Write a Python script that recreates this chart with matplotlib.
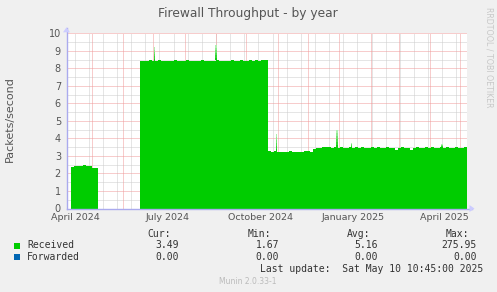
import numpy as np
import matplotlib
matplotlib.use('Agg')
import matplotlib.pyplot as plt
import matplotlib.dates as mdates
from matplotlib.patches import Polygon

# ---------------- data ----------------
title = "Firewall Throughput - by year"
ylabel = "Packets/second"
x_start = '2024-04-06'
x_end = '2025-05-07'
step_days = 3

seg_starts = ['2024-04-10', '2024-06-18', '2024-10-22', '2024-12-06']
seg1 = [2.38, 2.42, 2.40, 2.45, 2.46, 2.44, 2.41, 2.33, 2.32]
seg2 = [8.40, 8.44, 8.41, 8.45, 8.43, 8.40, 8.46, 8.42, 8.44, 8.41, 8.43, 8.45,
        8.42, 8.40, 8.44, 8.47, 8.43, 8.41, 8.44, 8.42, 8.45, 8.43, 8.40, 8.44,
        8.42, 8.46, 8.43, 8.41, 8.44, 8.42, 8.45, 8.41, 8.43, 8.46, 8.44, 8.42,
        8.45, 8.43, 8.47, 8.44, 8.46, 8.45]
seg3 = [3.27, 3.24, 3.26, 3.23, 3.25, 3.22, 3.24, 3.26, 3.23, 3.25, 3.24, 3.21,
        3.26, 3.30, 3.25]
seg4 = [3.42, 3.46, 3.48, 3.50, 3.49, 3.51, 3.48, 3.50, 3.47, 3.49, 3.46, 3.48,
        3.50, 3.47, 3.49, 3.48, 3.50, 3.46, 3.48, 3.49, 3.47, 3.50, 3.48, 3.46,
        3.49, 3.47, 3.48, 3.32, 3.47, 3.49, 3.48, 3.46, 3.36, 3.47, 3.50, 3.48,
        3.46, 3.49, 3.47, 3.50, 3.48, 3.45, 3.49, 3.47, 3.50, 3.48, 3.46, 3.49,
        3.44, 3.47, 3.49]
segments = [seg1, seg2, seg3, seg4]

spike_dates = ['2024-07-02', '2024-09-01', '2024-10-31', '2024-12-30', '2025-01-13', '2025-04-13']
spike_values = [9.20, 9.33, 4.28, 4.47, 3.73, 3.67]

label_texts = ['April 2024', 'July 2024', 'October 2024', 'January 2025', 'April 2025']
label_dates = ['2024-04-15', '2024-07-15', '2024-10-15', '2025-01-15', '2025-04-15']
major_month_dates = ['2024-05-01', '2024-06-01', '2024-07-01', '2024-08-01', '2024-09-01',
                     '2024-10-01', '2024-11-01', '2024-12-01', '2025-01-01', '2025-02-01',
                     '2025-03-01', '2025-04-01', '2025-05-01']
minor_first = '2024-04-14'
minor_step = 14
y_ticks = [0, 1, 2, 3, 4, 5, 6, 7, 8, 9, 10]
y_minor = [0.5, 1.5, 2.5, 3.5, 4.5, 5.5, 6.5, 7.5, 8.5, 9.5]

legend_names = ['Received', 'Forwarded']
legend_colors = ['#00cc00', '#0066b3']
col_headers = ['Cur:', 'Min:', 'Avg:', 'Max:']
cur_vals = ['3.49', '0.00']
min_vals = ['1.67', '0.00']
avg_vals = ['5.16', '0.00']
max_vals = ['275.95', '0.00']
last_update = "Last update:  Sat May 10 10:45:00 2025"
version = "Munin 2.0.33-1"
watermark = "RRDTOOL / TOBI OETIKER"

# ---------------- figure ----------------
W, H = 497, 292
fig = plt.figure(figsize=(W / 100, H / 100), dpi=100, facecolor='#f0f0f0')
px_l, px_r, px_t, px_b = 66.5, 466.5, 33.3, 208.5
ax = fig.add_axes([px_l / W, (H - px_b) / H, (px_r - px_l) / W, (px_b - px_t) / H])
ax.set_facecolor('white')

d2n = lambda s: mdates.date2num(np.datetime64(s))
x0, x1 = d2n(x_start), d2n(x_end)
ax.set_xlim(x0, x1)
ax.set_ylim(0, 10)

green = legend_colors[0]
all_edges, all_vals = [], []
for s, vals in zip(seg_starts, segments):
    edges = d2n(s) + np.arange(len(vals) + 1) * step_days
    ax.stairs(vals, edges, fill=True, color=green, baseline=0, lw=0, zorder=2)
    all_edges.append(edges)
    all_vals.append(vals)

def base_at(xd):
    for e, v in zip(all_edges, all_vals):
        if e[0] <= xd < e[-1]:
            return v[int((xd - e[0]) // step_days)]
    return 0.0

for ds, v in zip(spike_dates, spike_values):
    xd = d2n(ds)
    b = base_at(xd)
    n = 6
    levels = np.linspace(b, v, n + 1)
    for k in range(n):
        frac = (k + 0.5) / n
        c = np.array([0, 0.8, 0]) * (1 - frac * 0.75) + np.array([1, 1, 1]) * frac * 0.75
        ax.bar(xd, levels[k + 1] - levels[k], bottom=levels[k], width=1.6,
               color=tuple(c), lw=0, zorder=2)

# grid (beneath the data)
dot = (0, (1, 1))
lw = 0.72
gray_c = '#cccccc'
red_c = '#f09a9a'
minor_x = d2n(minor_first) + np.arange(0, 400, minor_step)
for xm in minor_x:
    if x0 < xm < x1:
        ax.axvline(xm, color=gray_c, lw=lw, ls=dot, zorder=1)
for yv in y_minor:
    ax.axhline(yv, color=gray_c, lw=lw, ls=dot, zorder=1)
for ms in major_month_dates:
    xm = d2n(ms)
    if x0 < xm < x1:
        ax.axvline(xm, color=red_c, lw=lw, ls=dot, zorder=1)
for yv in y_ticks[1:]:
    ax.axhline(yv, color=red_c, lw=lw, ls=dot, zorder=1)

for sp in ax.spines.values():
    sp.set_visible(False)
ax.tick_params(length=0, colors='#555555', labelsize=7)
ax.set_yticks(y_ticks)
ax.set_yticklabels([str(t) for t in y_ticks])
ax.tick_params(axis='y', pad=4)
ax.set_xticks([d2n(d) for d in label_dates])
ax.set_xticklabels(label_texts)
ax.tick_params(axis='x', pad=3.5, labelsize=6.8)

# axes lines with arrows
axc = '#aaaaee'
ax.plot([0, 1.015], [0, 0], transform=ax.transAxes, color=axc, lw=1, clip_on=False, zorder=5)
ax.plot([0, 0], [0, 1.03], transform=ax.transAxes, color=axc, lw=1, clip_on=False, zorder=5)
fig.patches.append(Polygon([[(px_r + 3) / W, (H - px_b + 3.5) / H], [(px_r + 3) / W, (H - px_b - 3.5) / H],
                            [(px_r + 8) / W, (H - px_b) / H]], closed=True, transform=fig.transFigure,
                           color='#ccccff', lw=0))
fig.patches.append(Polygon([[(px_l - 3.5) / W, (H - px_t + 1) / H], [(px_l + 3.5) / W, (H - px_t + 1) / H],
                            [px_l / W, (H - px_t + 6) / H]], closed=True, transform=fig.transFigure,
                           color='#ccccff', lw=0))

# texts
fig.text(248 / W, (H - 13.5) / H, title, ha='center', va='center', fontsize=8.8, color='#555555',
         family='DejaVu Sans')
fig.text(10 / W, (H - 119) / H, ylabel, ha='center', va='center', rotation=90, fontsize=8,
         color='#555555', family='DejaVu Sans')
fig.text(489 / W, (H - 57) / H, watermark, ha='center', va='center', rotation=270, fontsize=5.7,
         color='#c8c8c8', family='DejaVu Sans')

mono = 'DejaVu Sans Mono'
fs = 7
tc = '#333333'
col_x_head = [171, 271, 370, 469]
col_x_val = [179, 279, 378, 477]
for hx, h in zip(col_x_head, col_headers):
    fig.text(hx / W, (H - 234) / H, h, ha='right', va='center', fontsize=fs, family=mono, color=tc)
rows_y = [245.5, 257]
for i, (name, c) in enumerate(zip(legend_names, legend_colors)):
    y = rows_y[i]
    fig.patches.append(Polygon([[14 / W, (H - y + 3) / H], [20 / W, (H - y + 3) / H],
                                [20 / W, (H - y - 3) / H], [14 / W, (H - y - 3) / H]],
                               closed=True, transform=fig.transFigure, color=c, lw=0))
    fig.text(27 / W, (H - y) / H, name, ha='left', va='center', fontsize=fs, family=mono, color=tc)
    for vx, vals in zip(col_x_val, [cur_vals, min_vals, avg_vals, max_vals]):
        fig.text(vx / W, (H - y) / H, vals[i], ha='right', va='center', fontsize=fs, family=mono, color=tc)
fig.text(483 / W, (H - 269.5) / H, last_update, ha='right', va='center', fontsize=fs, family=mono, color=tc)
fig.text(248 / W, (H - 281) / H, version, ha='center', va='center', fontsize=5.5, color='#bbbbbb',
         family='DejaVu Sans')

fig.savefig('out.png', dpi=100, facecolor=fig.get_facecolor())
